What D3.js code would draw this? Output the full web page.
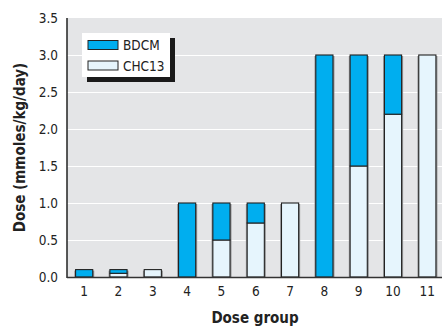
<!DOCTYPE html>
<html><head><meta charset="utf-8">
<script src="https://cdn.jsdelivr.net/npm/d3@7"></script>
<style>
body{margin:0;background:#fff;}
text{font-family:"Liberation Sans Narrow","Arial Narrow","DejaVu Sans Condensed",sans-serif;}
</style></head>
<body><svg id="c" width="442" height="328"></svg>
<script>
const groups = ["1","2","3","4","5","6","7","8","9","10","11"];
const chc13 = [0, 0.05, 0.1, 0, 0.5, 0.73, 1.0, 0, 1.5, 2.2, 3.0];
const bdcm  = [0.1, 0.05, 0, 1.0, 0.5, 0.27, 0, 3.0, 1.5, 0.8, 0];
const yTicks = [0, 0.5, 1.0, 1.5, 2.0, 2.5, 3.0, 3.5];
const seriesNames = ["BDCM", "CHC13"];
const colors = {BDCM: "#00aeef", CHC13: "#e6f5fd"};

(function(){
const svg = d3.select("#c");
const pL = 67, pR = 444.5, pT = 18, pB = 277;
const x = d3.scaleBand().domain(groups).range([pL, pR]).paddingInner(0.5).paddingOuter(0.25);
const y = d3.scaleLinear().domain([0, 3.5]).range([pB, pT]);

svg.append("rect").attr("x", pL).attr("y", pT).attr("width", 442 - pL).attr("height", pB - pT).attr("fill", "#e4e5e7");

svg.append("g").selectAll("line").data(yTicks.filter(d => d > 0 && d < 3.5)).join("line")
  .attr("x1", pL).attr("x2", 442).attr("y1", d => Math.round(y(d)) + 0.5).attr("y2", d => Math.round(y(d)) + 0.5)
  .attr("stroke", "#fff").attr("stroke-width", 1.2);

const table = groups.map((g, i) => ({group: g, CHC13: chc13[i], BDCM: bdcm[i]}));
const stack = d3.stack().keys(["CHC13", "BDCM"])(table);

svg.append("g").selectAll("rect").data(table).join("rect")
  .attr("x", d => x(d.group) - 1.3).attr("width", x.bandwidth() + 2.8)
  .attr("y", d => y(d.CHC13 + d.BDCM) + 1).attr("height", d => pB - y(d.CHC13 + d.BDCM) - 1)
  .attr("fill", "#939496");

stack.forEach(layer => {
  svg.append("g").selectAll("rect").data(layer.filter(d => d[1] > d[0])).join("rect")
    .attr("x", d => x(d.data.group)).attr("width", x.bandwidth())
    .attr("y", d => y(d[1])).attr("height", d => y(d[0]) - y(d[1]))
    .attr("fill", colors[layer.key]).attr("stroke", "#222").attr("stroke-width", 1.1);
});

svg.append("line").attr("x1", pL).attr("x2", pL).attr("y1", pT).attr("y2", pB + 1).attr("stroke", "#222").attr("stroke-width", 1.5);
svg.append("line").attr("x1", pL).attr("x2", 442).attr("y1", pB + 0.5).attr("y2", pB + 0.5).attr("stroke", "#333").attr("stroke-width", 1.5);

const yAxis = d3.axisLeft(y).tickValues(yTicks).tickFormat(d3.format(".1f")).tickSize(0).tickPadding(9);
const gy = svg.append("g").attr("transform", `translate(${pL},0)`).call(yAxis);
gy.select(".domain").remove();
gy.selectAll("text").attr("font-size", 13.5).attr("fill", "#222")
  .style("font-family", '"Liberation Sans Narrow","Arial Narrow","DejaVu Sans Condensed",sans-serif');

const xAxis = d3.axisBottom(x).tickSize(0).tickPadding(9);
const gx = svg.append("g").attr("transform", `translate(0,${pB})`).call(xAxis);
gx.select(".domain").remove();
gx.selectAll("text").attr("font-size", 13.5).attr("fill", "#222")
  .style("font-family", '"Liberation Sans Narrow","Arial Narrow","DejaVu Sans Condensed",sans-serif');

svg.append("text").attr("x", 255).attr("y", 323).attr("text-anchor", "middle")
  .attr("font-size", 15).attr("font-weight", "bold").attr("fill", "#222").text("Dose group");
svg.append("text").attr("transform", `translate(25,${(pT + pB) / 2}) rotate(-90)`).attr("text-anchor", "middle")
  .attr("font-size", 15).attr("font-weight", "bold").attr("fill", "#222").text("Dose (mmoles/kg/day)");

const lg = svg.append("g");
lg.append("rect").attr("x", 87).attr("y", 38).attr("width", 88).attr("height", 44).attr("fill", "#1a1a1a");
lg.append("rect").attr("x", 82).attr("y", 33).attr("width", 88).attr("height", 44).attr("fill", "#fff");
seriesNames.forEach((s, i) => {
  lg.append("rect").attr("x", 88).attr("y", 40.5 + i * 20.5).attr("width", 30).attr("height", 9)
    .attr("fill", colors[s]).attr("stroke", "#222").attr("stroke-width", 1);
  lg.append("text").attr("x", 123).attr("y", 50 + i * 20.5).attr("font-size", 13.5).attr("fill", "#222").text(s);
});
})();
</script></body></html>
